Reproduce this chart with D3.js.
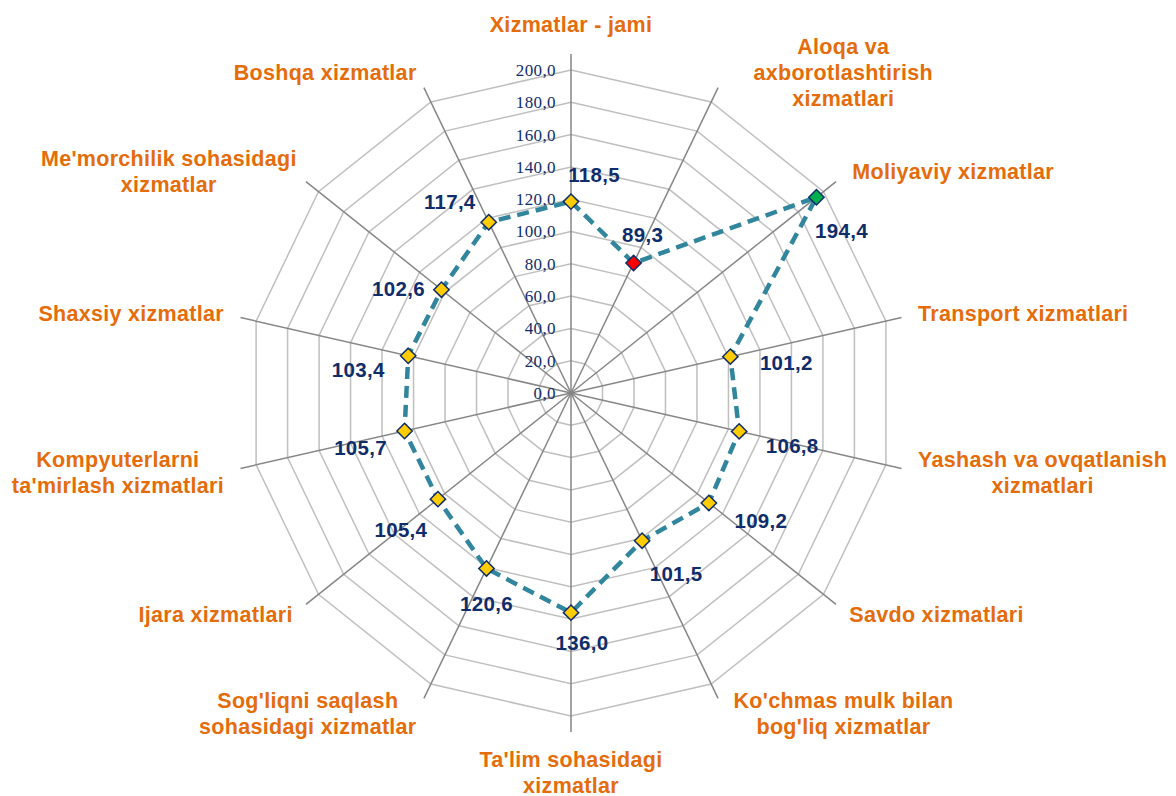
<!DOCTYPE html>
<html>
<head>
<meta charset="utf-8">
<script src="https://cdn.jsdelivr.net/npm/d3@7"></script>
<style>
    body { margin: 0; background: #ffffff; }
    svg { display: block; }
</style>
</head>
<body>
<script>

// service categories (clockwise from the top), "\n" marks a line break
var categories = [
    "Xizmatlar - jami",
    "Aloqa va\naxborotlashtirish\nxizmatlari",
    "Moliyaviy xizmatlar",
    "Transport xizmatlari",
    "Yashash va ovqatlanish\nxizmatlari",
    "Savdo xizmatlari",
    "Ko'chmas mulk bilan\nbog'liq xizmatlar",
    "Ta'lim sohasidagi\nxizmatlar",
    "Sog'liqni saqlash\nsohasidagi xizmatlar",
    "Ijara xizmatlari",
    "Kompyuterlarni\nta'mirlash xizmatlari",
    "Shaxsiy xizmatlar",
    "Me'morchilik sohasidagi\nxizmatlar",
    "Boshqa xizmatlar"
];

// growth rate, percent
var values = [118.5, 89.3, 194.4, 101.2, 106.8, 109.2, 101.5, 136.0, 120.6, 105.4, 105.7, 103.4, 102.6, 117.4];

// radial axis ticks
var tickValues = [0, 20, 40, 60, 80, 100, 120, 140, 160, 180, 200];

// where each value label sits relative to its marker (px)
var valueLabelOffsets = [
    [23, -27], [9, -28], [25, 34], [56, 6], [53, 14], [52, 18], [34, 33],
    [11, 30], [0, 35], [-37, 31], [-44, 17], [-50, 14], [-43, -1], [-39, -20]
];

// nudges for a few category labels [dx, dy]
var categoryNudges = [
    [0, 0], [28, 0], [3, 0], [0, 0], [0, 0], [0, 0], [8, 0],
    [0, -3], [0, 0], [0, 0], [0, 0], [0, 0], [4, 0], [0, 0]
];

var width = 1176,
    height = 796,
    cx = 571,
    cy = 393,
    radius = 323,
    labelGap = 33,
    lineHeight = 26;

var orange = "#E46C0A",
    navy = "#0F2D6B";

var svg = d3.select("body").append("svg")
    .attr("width", width)
    .attr("height", height);

var g = svg.append("g")
    .attr("transform", "translate(" + cx + "," + cy + ")");

var r = d3.scaleLinear()
    .domain([0, 200])
    .range([0, radius]);

var n = categories.length;
var angle = d3.scaleLinear()
    .domain([0, n])
    .range([0, 2 * Math.PI]);

function px(i, rad) { return rad * Math.sin(angle(i)); }
function py(i, rad) { return -rad * Math.cos(angle(i)); }

// grid rings (polygons)
tickValues.slice(1).forEach(function(t) {
    var pts = d3.range(n).map(function(i) { return [px(i, r(t)), py(i, r(t))]; });
    g.append("polygon")
        .attr("points", pts.map(function(p) { return p.join(","); }).join(" "))
        .attr("fill", "none")
        .attr("stroke", "#BFBFBF")
        .attr("stroke-width", 1.5);
});

// spokes
g.selectAll(".spoke")
    .data(d3.range(n))
    .enter().append("line")
    .attr("class", "spoke")
    .attr("x1", 0).attr("y1", 0)
    .attr("x2", function(i) { return px(i, radius + 16); })
    .attr("y2", function(i) { return py(i, radius + 16); })
    .attr("stroke", "#868686")
    .attr("stroke-width", 1.5);

// tick labels along the top spoke
var fmt = function(v) { return d3.format(".1f")(v).replace(".", ","); };

g.selectAll(".tick")
    .data(tickValues)
    .enter().append("text")
    .attr("class", "tick")
    .attr("x", -15)
    .attr("y", function(d) { return -r(d); })
    .attr("dy", "0.35em")
    .attr("text-anchor", "end")
    .style("font-family", "'Liberation Serif', 'Times New Roman', serif")
    .style("font-size", "17px")
    .style("letter-spacing", "0.4px")
    .style("fill", navy)
    .text(fmt);

// data line
var line = d3.lineRadial()
    .angle(function(d, i) { return angle(i); })
    .radius(function(d) { return r(d); })
    .curve(d3.curveLinearClosed);

g.append("path")
    .datum(values)
    .attr("d", line)
    .attr("fill", "none")
    .attr("stroke", "#31859C")
    .attr("stroke-width", 4.5)
    .attr("stroke-dasharray", "12,7");

// markers: min red, max green, others gold
var vmin = d3.min(values), vmax = d3.max(values);
var diamond = d3.symbol().type(d3.symbolDiamond2).size(150);

g.selectAll(".marker")
    .data(values)
    .enter().append("path")
    .attr("class", "marker")
    .attr("d", diamond)
    .attr("transform", function(d, i) { return "translate(" + px(i, r(d)) + "," + py(i, r(d)) + ")"; })
    .attr("fill", function(d) { return d === vmin ? "#FF0000" : d === vmax ? "#00B050" : "#FFCC00"; })
    .attr("stroke", navy)
    .attr("stroke-width", 1.5);

// value labels
g.selectAll(".vlabel")
    .data(values)
    .enter().append("text")
    .attr("class", "vlabel")
    .attr("x", function(d, i) { return px(i, r(d)) + valueLabelOffsets[i][0]; })
    .attr("y", function(d, i) { return py(i, r(d)) + valueLabelOffsets[i][1]; })
    .attr("dy", "0.35em")
    .attr("text-anchor", "middle")
    .style("font-family", "'Liberation Sans', Arial, sans-serif")
    .style("font-weight", "bold")
    .style("font-size", "20.5px")
    .style("letter-spacing", "0.3px")
    .style("fill", navy)
    .text(fmt);

// category labels
categories.forEach(function(name, i) {
    var lines = name.split("\n");
    var sx = Math.sin(angle(i)), sy = -Math.cos(angle(i));
    var ax = px(i, radius + labelGap), ay = py(i, radius + labelGap);

    var t = g.append("text")
        .attr("text-anchor", "middle")
        .style("font-family", "'Liberation Sans', Arial, sans-serif")
        .style("font-weight", "bold")
        .style("font-size", "21.5px")
        .style("letter-spacing", "0.3px")
        .style("fill", orange);

    var spans = lines.map(function(l) {
        return t.append("tspan").text(l);
    });
    var w = d3.max(spans, function(s) { return s.node().getComputedTextLength(); });
    var h = lines.length * lineHeight;

    var centerX, centerY;
    if (Math.abs(sx) < 0.05) {
        centerX = ax;
        centerY = ay + sy * h / 2;
    } else {
        centerX = ax + (sx > 0 ? 1 : -1) * w / 2;
        centerY = ay;
    }
    centerX += categoryNudges[i][0];
    centerY += categoryNudges[i][1];

    spans.forEach(function(s, k) {
        s.attr("x", centerX)
         .attr("y", centerY - h / 2 + lineHeight * (k + 0.5))
         .attr("dy", "0.35em");
    });
});

</script>
</body>
</html>
